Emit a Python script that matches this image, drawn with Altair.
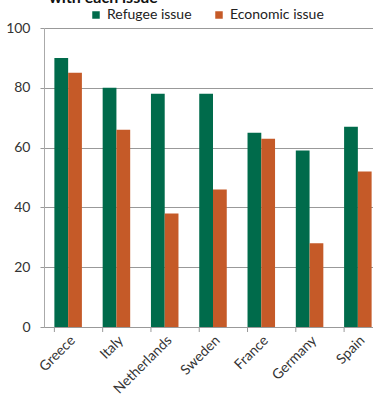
import altair as alt
import pandas as pd

countries = ["Greece", "Italy", "Netherlands", "Sweden", "France", "Germany", "Spain"]
refugee = [90, 80, 78, 78, 65, 59, 67]
economic = [85, 66, 38, 46, 63, 28, 52]
issues = ["Refugee issue", "Economic issue"]
colors = ["#006B4B", "#C55A28"]
title_text = "with each issue"

rows = []
for c, r, e in zip(countries, refugee, economic):
    rows.append({"country": c, "issue": issues[0], "value": r})
    rows.append({"country": c, "issue": issues[1], "value": e})
df = pd.DataFrame(rows)

FONT = "Lato"
xscale = alt.Scale(domain=countries, range=[0, 338], paddingInner=0.43, paddingOuter=0.215)

bars = alt.Chart(df).mark_bar(clip=False).encode(
    x=alt.X("country:N", sort=countries, scale=xscale,
            axis=alt.Axis(title=None, labelAngle=315, labelAlign="right", labelBaseline="top",
                          ticks=False, domain=True, domainColor="#999", labelFontSize=14,
                          labelColor="#333", labelPadding=6, labelFont=FONT)),
    xOffset=alt.XOffset("issue:N", sort=issues, scale=alt.Scale(domain=issues)),
    y=alt.Y("value:Q", scale=alt.Scale(domain=[0, 100]),
            axis=alt.Axis(values=[0, 20, 40, 60, 80, 100], title=None, grid=True, gridColor="#999",
                          tickColor="#999", domainColor="#aaa", tickSize=4, labelPadding=10,
                          labelFontSize=14, labelColor="#333", labelFont=FONT)),
    color=alt.Color("issue:N", sort=issues, scale=alt.Scale(domain=issues, range=colors),
                    legend=alt.Legend(title=None, orient="none", legendX=45, legendY=-20,
                                      direction="horizontal", symbolType="square", symbolSize=56,
                                      symbolStrokeWidth=0, labelFontSize=14, labelFont=FONT,
                                      labelColor="#222", columnPadding=20, labelOffset=4)),
)

ticks = alt.Chart(pd.DataFrame({"country": countries})).mark_rule(color="#999").encode(
    x=alt.X("country:N", sort=countries, scale=xscale, bandPosition=0),
    y=alt.value(299),
    y2=alt.value(304),
)

title = alt.Chart(pd.DataFrame({"t": [title_text]})).mark_text(
    align="left", baseline="alphabetic", fontSize=16, fontWeight="bold", font=FONT, color="#111"
).encode(text="t:N", x=alt.value(5), y=alt.value(-25))

chart = alt.layer(bars, ticks, title).properties(
    width=329, height=299,
    autosize=alt.AutoSizeParams(type="none"),
    padding={"left": 44, "top": 28, "right": 0, "bottom": 74},
).configure_view(stroke=None)

chart.save("out.html", embed_options={"renderer": "svg", "actions": False})
